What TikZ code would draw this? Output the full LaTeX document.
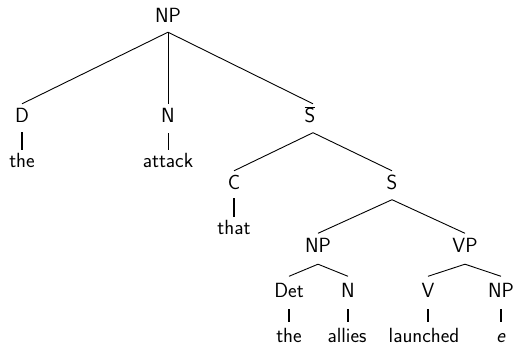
\documentclass[tikz,border=0pt]{standalone}
\begin{document}
\begin{tikzpicture}[x=1pt,y=-1pt,
  lab/.style={inner sep=0pt,text height=14pt,text depth=0pt,anchor=base,
    font=\sffamily\fontsize{20.5}{24}\selectfont},
  branch/.style={line width=0.9pt},
  stem/.style={line width=2pt},
  thinstem/.style={line width=0.9pt}]
\useasboundingbox (0,0) rectangle (516,347);
% nodes
\node[lab] (np0) at (168,23) {NP};
\node[lab] (d) at (22,123) {D};
\node[lab] (n0) at (168,123) {N};
\node[lab] (sbar) at (310,123) {$\overline{\mbox{S}}$};
\node[lab] (the1) at (22,167.5) {the};
\node[lab] (attack) at (168,168) {attack};
\node[lab] (c) at (234,190) {C};
\node[lab] (s) at (392,190) {S};
\node[lab] (that) at (234,235) {that};
\node[lab] (np1) at (318,252.5) {NP};
\node[lab] (vp) at (465,252.5) {VP};
\node[lab] (det) at (289,297) {Det};
\node[lab] (n1) at (348,297) {N};
\node[lab] (v) at (428,297) {V};
\node[lab] (np2) at (501,297) {NP};
\node[lab] (the2) at (289,342.5) {the};
\node[lab] (allies) at (347,342.5) {allies};
\node[lab] (launched) at (424,342.5) {launched};
\node[lab] (e) at (501,342.5) {\textit{e}};
% branches
\draw[branch] ([yshift=-9pt]np0.south) -- ([yshift=5pt]d.north);
\draw[branch] ([yshift=-9pt]np0.south) -- ([yshift=5pt]n0.north);
\draw[branch] ([yshift=-9pt]np0.south) -- ([xshift=3pt,yshift=5pt]sbar.north);
\draw[branch] ([xshift=3pt,yshift=-9.5pt]sbar.south) -- ([yshift=5pt]c.north);
\draw[branch] ([xshift=3pt,yshift=-9.5pt]sbar.south) -- ([yshift=5pt]s.north);
\draw[branch] ([yshift=-9.5pt]s.south) -- ([yshift=5pt]np1.north);
\draw[branch] ([yshift=-9.5pt]s.south) -- ([yshift=5pt]vp.north);
\draw[branch] ([yshift=-11.5pt]np1.south) -- ([yshift=6.5pt]det.north);
\draw[branch] ([yshift=-11.5pt]np1.south) -- ([yshift=6.5pt]n1.north);
\draw[branch] ([yshift=-11.5pt]vp.south) -- ([yshift=6.5pt]v.north);
\draw[branch] ([yshift=-11.5pt]vp.south) -- ([yshift=6.5pt]np2.north);
% stems to words (vertical, under the category)
\draw[stem] ([yshift=-9pt]d.south) -- ([yshift=3.5pt]d.south |- the1.north);
\draw[thinstem] ([yshift=-10pt]n0.south) -- ([yshift=4pt]n0.south |- attack.north);
\draw[stem] ([yshift=-8pt]c.south) -- ([yshift=4pt]c.south |- that.north);
\draw[stem] ([yshift=-12pt]det.south) -- ([yshift=6pt]det.south |- the2.north);
\draw[stem] ([yshift=-12pt]n1.south) -- ([yshift=6pt]n1.south |- allies.north);
\draw[stem] ([yshift=-12pt]v.south) -- ([yshift=6pt]v.south |- launched.north);
\draw[stem] ([yshift=-12pt]np2.south) -- ([yshift=6pt]np2.south |- e.north);
\end{tikzpicture}
\end{document}
